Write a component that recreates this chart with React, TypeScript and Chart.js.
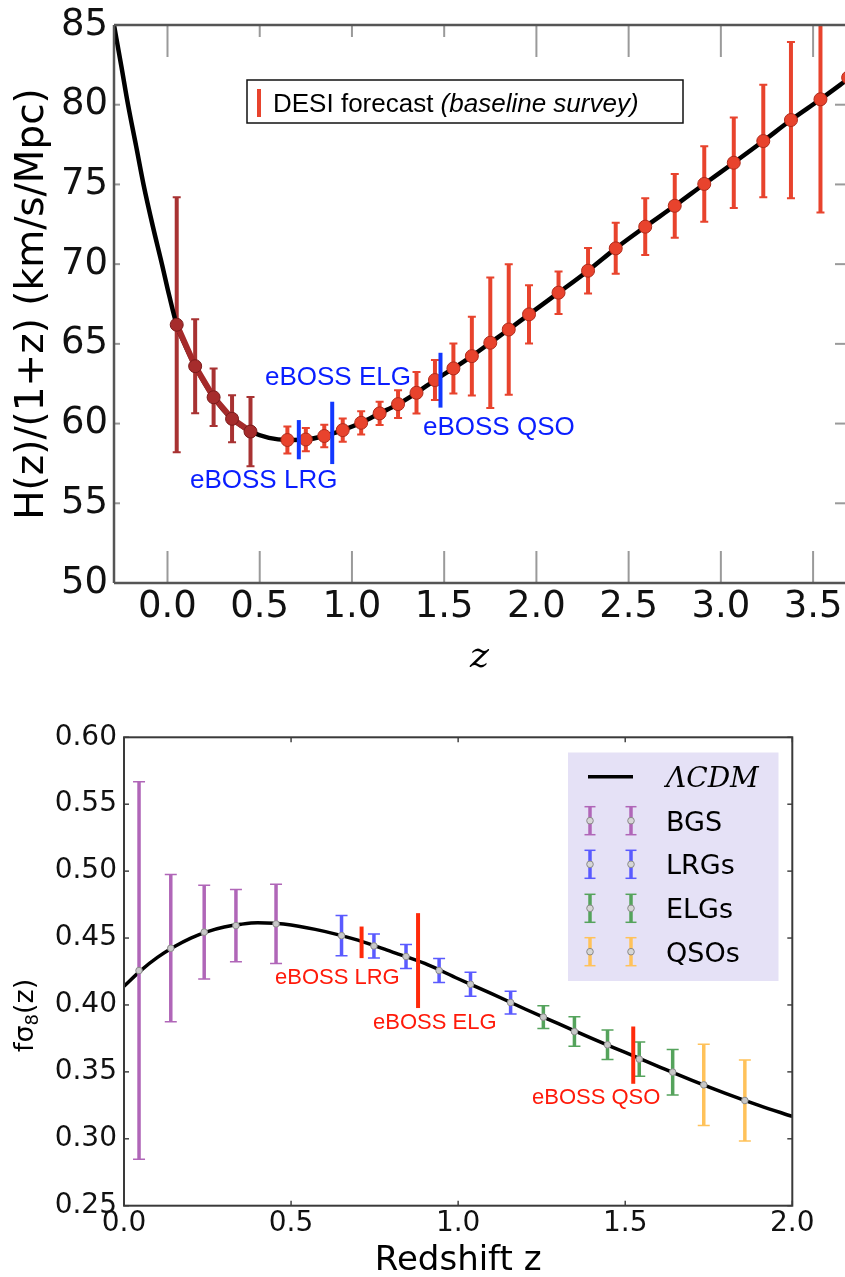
import React, { useEffect, useRef } from "react";
import { Chart, registerables } from "chart.js";

Chart.register(...registerables);

/* ================= Top panel: H(z)/(1+z) ================= */
const topXTicks = [0.0, 0.5, 1.0, 1.5, 2.0, 2.5, 3.0, 3.5];
const topYTicks = [50, 55, 60, 65, 70, 75, 80, 85];

const lcdmHzZ = [-0.29, -0.25, -0.214, -0.17, -0.13, -0.08, -0.03, 0.01, 0.05, 0.1, 0.15, 0.2, 0.25, 0.3, 0.35, 0.4, 0.45, 0.55, 0.65, 0.75, 0.85, 0.95, 1.05, 1.15, 1.25, 1.35, 1.45, 1.55, 1.65, 1.75, 1.85, 1.96, 2.12, 2.28, 2.43, 2.59, 2.75, 2.91, 3.07, 3.23, 3.38, 3.54, 3.7];
const lcdmHzH = [85.0, 82.4, 80.0, 77.4, 75.0, 72.4, 70.0, 68.0, 66.2, 64.8, 63.6, 62.55, 61.65, 60.9, 60.3, 59.85, 59.5, 59.1, 58.97, 59.0, 59.22, 59.59, 60.05, 60.64, 61.22, 61.93, 62.73, 63.46, 64.23, 65.07, 65.9, 66.85, 68.21, 69.59, 70.99, 72.35, 73.66, 75.03, 76.36, 77.72, 79.04, 80.34, 81.7];

const bgsHzZ = [0.05, 0.15, 0.25, 0.35, 0.45];
const bgsHzH = [66.2, 63.6, 61.65, 60.3, 59.5];
const bgsHzErr = [8.0, 2.95, 1.8, 1.47, 2.17];

const desiHzZ = [0.65, 0.75, 0.85, 0.95, 1.05, 1.15, 1.25, 1.35, 1.45, 1.55, 1.65, 1.75, 1.85, 1.96, 2.12, 2.28, 2.43, 2.59, 2.75, 2.91, 3.07, 3.23, 3.38, 3.54, 3.69];
const desiHzH = [58.97, 59.0, 59.22, 59.59, 60.05, 60.64, 61.22, 61.93, 62.73, 63.46, 64.23, 65.07, 65.9, 66.85, 68.21, 69.59, 70.99, 72.35, 73.66, 75.03, 76.36, 77.72, 79.04, 80.34, 81.7];
const desiHzErr = [0.85, 0.73, 0.7, 0.73, 0.73, 0.73, 0.87, 1.3, 1.25, 1.57, 2.47, 4.1, 4.1, 1.83, 1.33, 1.43, 1.6, 1.78, 2.0, 2.37, 2.84, 3.53, 4.9, 7.1, 9.0];

const ebossTopZ = [0.712, 0.893, 1.48];
const ebossTopLo = [57.76, 57.46, 61.0];
const ebossTopHi = [60.22, 61.37, 64.44];
const ebossTopLabels = ["eBOSS LRG", "eBOSS ELG", "eBOSS QSO"];

/* ================= Bottom panel: f sigma8(z) ================= */
const botXTicks = [0.0, 0.5, 1.0, 1.5, 2.0];
const botYTicks = [0.25, 0.3, 0.35, 0.4, 0.45, 0.5, 0.55, 0.6];

const lcdmFsZ = [0, 0.05, 0.1, 0.15, 0.2, 0.25, 0.3, 0.35, 0.4, 0.45, 0.5, 0.6, 0.7, 0.8, 0.9, 1.0, 1.1, 1.2, 1.3, 1.4, 1.5, 1.6, 1.7, 1.8, 1.9, 2.0];
const lcdmFsV = [0.414, 0.4257, 0.4355, 0.4435, 0.45, 0.4548, 0.4582, 0.4603, 0.4614, 0.461, 0.4598, 0.455, 0.4484, 0.4398, 0.431, 0.4196, 0.4085, 0.397, 0.386, 0.375, 0.3645, 0.354, 0.3437, 0.334, 0.325, 0.3167];

const bgsFsZ = [0.045, 0.14, 0.24, 0.335, 0.455];
const bgsFsV = [0.4257, 0.4424, 0.4544, 0.4593, 0.4606];
const bgsFsErr = [0.141, 0.055, 0.035, 0.027, 0.0296];

const lrgFsZ = [0.651, 0.748, 0.844, 0.943, 1.037, 1.157];
const lrgFsV = [0.4518, 0.4441, 0.4362, 0.4257, 0.4155, 0.4018];
const lrgFsErr = [0.015, 0.009, 0.009, 0.009, 0.009, 0.0085];

const elgFsZ = [1.255, 1.348, 1.447, 1.542, 1.642];
const elgFsV = [0.3909, 0.3801, 0.3702, 0.3595, 0.3498];
const elgFsErr = [0.0085, 0.011, 0.011, 0.0128, 0.017];

const qsoFsZ = [1.735, 1.858];
const qsoFsV = [0.3403, 0.3286];
const qsoFsErr = [0.0303, 0.0302];

const ebossBotZ = [0.711, 0.88, 1.524];
const ebossBotLo = [0.435, 0.3977, 0.3411];
const ebossBotHi = [0.4586, 0.4686, 0.3839];
const ebossBotLabels = ["eBOSS LRG", "eBOSS ELG", "eBOSS QSO"];

const legendLabels = ["BGS", "LRGs", "ELGs", "QSOs"];

/* ================= helpers ================= */
const C_BGS = "#b066b8";
const C_LRG = "#5a5aff";
const C_ELG = "#55a35c";
const C_QSO = "#ffc25a";

const pts = (xs: number[], ys: number[]) => xs.map((x, i) => ({ x, y: ys[i] }));

function errorBars(ctx: any, xS: any, yS: any, xs: number[], ys: number[], es: number[], color: string, lw: number, capHalf: number, capLw: number) {
  ctx.strokeStyle = color;
  ctx.lineCap = "butt";
  for (let i = 0; i < xs.length; i++) {
    const px = xS.getPixelForValue(xs[i]);
    const t = yS.getPixelForValue(ys[i] + es[i]);
    const b = yS.getPixelForValue(ys[i] - es[i]);
    ctx.lineWidth = lw;
    ctx.beginPath();
    ctx.moveTo(px, t);
    ctx.lineTo(px, b);
    ctx.stroke();
    ctx.lineWidth = capLw;
    ctx.beginPath();
    ctx.moveTo(px - capHalf, t);
    ctx.lineTo(px + capHalf, t);
    ctx.moveTo(px - capHalf, b);
    ctx.lineTo(px + capHalf, b);
    ctx.stroke();
  }
}

function vLines(ctx: any, xS: any, yS: any, xs: number[], lo: number[], hi: number[], color: string, lw: number) {
  ctx.strokeStyle = color;
  ctx.lineWidth = lw;
  for (let i = 0; i < xs.length; i++) {
    const px = xS.getPixelForValue(xs[i]);
    ctx.beginPath();
    ctx.moveTo(px, yS.getPixelForValue(hi[i]));
    ctx.lineTo(px, yS.getPixelForValue(lo[i]));
    ctx.stroke();
  }
}

function line(ctx: any, x1: number, y1: number, x2: number, y2: number) {
  ctx.beginPath();
  ctx.moveTo(x1, y1);
  ctx.lineTo(x2, y2);
  ctx.stroke();
}

function fixedAxis(size: number, horizontal: boolean) {
  return (s: any) => {
    if (horizontal) s.height = size;
    else s.width = size;
    s.paddingLeft = 0;
    s.paddingRight = 0;
    s.paddingTop = 0;
    s.paddingBottom = 0;
  };
}

/* ================= Top chart ================= */
const topPlugin = {
  id: "topDeco",
  beforeDatasetsDraw(chart: any) {
    const { ctx, chartArea: a, scales } = chart;
    ctx.save();
    ctx.beginPath();
    ctx.rect(a.left, a.top, a.right - a.left - 4, a.bottom - a.top);
    ctx.clip();
    errorBars(ctx, scales.x, scales.y, bgsHzZ, bgsHzH, bgsHzErr, "#a83232", 4, 4, 2);
    errorBars(ctx, scales.x, scales.y, desiHzZ, desiHzH, desiHzErr, "#e8432d", 4, 4, 2);
    ctx.restore();
  },
  afterDatasetsDraw(chart: any) {
    const { ctx, scales } = chart;
    ctx.save();
    vLines(ctx, scales.x, scales.y, ebossTopZ, ebossTopLo, ebossTopHi, "#1238ff", 4);
    ctx.fillStyle = "#0a1eff";
    ctx.font = "26px 'Liberation Sans', Arial, sans-serif";
    ctx.textAlign = "left";
    ctx.textBaseline = "alphabetic";
    ctx.fillText(ebossTopLabels[0], 190, 488);
    ctx.fillText(ebossTopLabels[1], 265, 385);
    ctx.fillText(ebossTopLabels[2], 423, 435);
    ctx.restore();
  },
  afterDraw(chart: any) {
    const { ctx, chartArea: a, scales } = chart;
    const xS = scales.x, yS = scales.y;
    ctx.save();
    ctx.strokeStyle = "#9a9a9a";
    ctx.lineWidth = 2;
    topXTicks.forEach((v) => {
      const px = xS.getPixelForValue(v);
      line(ctx, px, a.bottom, px, a.bottom - 32);
      const long = v < 0.25 || v > 1.75;
      line(ctx, px, a.top, px, a.top + (long ? 32 : 12));
    });
    topYTicks.forEach((v) => {
      if (v === 50 || v === 85) return;
      const py = yS.getPixelForValue(v);
      line(ctx, a.left, py, a.left + 6, py);
      line(ctx, a.right, py, a.right - 10, py);
    });
    ctx.strokeStyle = "#555";
    ctx.lineWidth = 2.5;
    line(ctx, a.left, a.top, a.left, a.bottom);
    line(ctx, a.left, a.bottom, a.right, a.bottom);
    line(ctx, a.left, a.top, a.right, a.top);

    ctx.fillStyle = "#fff";
    ctx.fillRect(247, 80, 436, 43);
    ctx.strokeStyle = "#111";
    ctx.lineWidth = 1.5;
    ctx.strokeRect(247, 80, 436, 43);
    ctx.strokeStyle = "#e8432d";
    ctx.lineWidth = 4;
    line(ctx, 259, 89, 259, 117);
    ctx.fillStyle = "#000";
    ctx.textAlign = "left";
    ctx.textBaseline = "alphabetic";
    ctx.font = "26px 'Liberation Sans', Arial, sans-serif";
    const t1 = "DESI forecast ";
    ctx.fillText(t1, 273, 111.5);
    const w1 = ctx.measureText(t1).width;
    ctx.font = "italic 26px 'Liberation Sans', Arial, sans-serif";
    ctx.fillText("(baseline survey)", 273 + w1, 111.5);

    ctx.fillStyle = "#000";
    ctx.font = "39px 'DejaVu Sans'";
    ctx.save();
    ctx.translate(43, (a.top + a.bottom) / 2);
    ctx.rotate(-Math.PI / 2);
    ctx.textAlign = "center";
    ctx.textBaseline = "alphabetic";
    ctx.fillText("H(z)/(1+z) (km/s/Mpc)", 0, 0);
    ctx.restore();
    ctx.font = "italic 36px 'DejaVu Serif'";
    ctx.textAlign = "center";
    ctx.fillText("z", (a.left + a.right) / 2, 667);
    ctx.restore();
  },
};

function topConfig(): any {
  return {
    type: "scatter",
    data: {
      datasets: [
        {
          type: "line",
          data: pts(lcdmHzZ, lcdmHzH),
          borderColor: "#000",
          borderWidth: 4.5,
          pointRadius: 0,
          cubicInterpolationMode: "monotone",
          order: 3,
        },
        {
          type: "line",
          data: pts(bgsHzZ, bgsHzH),
          borderColor: "#a52a2a",
          borderWidth: 6,
          pointRadius: 6.5,
          pointBackgroundColor: "#a62c2c",
          pointBorderColor: "#7a1a1a",
          pointBorderWidth: 1,
          order: 2,
        },
        {
          type: "scatter",
          data: pts(desiHzZ, desiHzH),
          pointRadius: 6.5,
          pointBackgroundColor: "#e8432d",
          pointBorderColor: "#b02a1a",
          pointBorderWidth: 1,
          order: 1,
        },
      ],
    },
    options: {
      animation: false,
      responsive: false,
      devicePixelRatio: 1,
      events: [],
      layout: { padding: { top: 25, right: 0, left: 0, bottom: 0 }, autoPadding: false },
      plugins: { legend: { display: false }, tooltip: { enabled: false } },
      scales: {
        x: {
          type: "linear",
          min: -0.29,
          max: 3.673,
          grid: { display: false, drawTicks: false },
          border: { display: false },
          ticks: {
            autoSkip: false,
            maxRotation: 0,
            padding: 6,
            color: "#111",
            font: { family: "'DejaVu Sans'", size: 37, lineHeight: 1 },
            callback: (v: any) => Number(v).toFixed(1),
          },
          afterBuildTicks: (s: any) => {
            s.ticks = topXTicks.map((v) => ({ value: v }));
          },
          afterFit: fixedAxis(107, true),
        },
        y: {
          type: "linear",
          min: 50,
          max: 85,
          grid: { display: false, drawTicks: false },
          border: { display: false },
          ticks: {
            autoSkip: false,
            padding: 6,
            color: "#111",
            font: { family: "'DejaVu Sans'", size: 37, lineHeight: 1 },
            callback: (v: any) => String(v),
          },
          afterBuildTicks: (s: any) => {
            s.ticks = topYTicks.map((v) => ({ value: v }));
          },
          afterFit: fixedAxis(114, false),
        },
      },
    },
    plugins: [topPlugin],
  };
}

/* ================= Bottom chart ================= */
function legendErrSym(ctx: any, x: number, y: number, color: string) {
  ctx.strokeStyle = color;
  ctx.lineWidth = 3.5;
  line(ctx, x, y - 14, x, y + 14);
  ctx.lineWidth = 1.5;
  line(ctx, x - 5.5, y - 14, x + 5.5, y - 14);
  line(ctx, x - 5.5, y + 14, x + 5.5, y + 14);
  ctx.fillStyle = "#d6d6d6";
  ctx.strokeStyle = "#8a8a8a";
  ctx.lineWidth = 1;
  ctx.beginPath();
  ctx.arc(x, y, 3.3, 0, Math.PI * 2);
  ctx.fill();
  ctx.stroke();
}

const botPlugin = {
  id: "botDeco",
  afterDatasetDraw(chart: any, args: any) {
    if (args.index !== 0) return;
    const { ctx, chartArea: a, scales } = chart;
    ctx.save();
    ctx.beginPath();
    ctx.rect(a.left, a.top, a.right - a.left, a.bottom - a.top);
    ctx.clip();
    errorBars(ctx, scales.x, scales.y, bgsFsZ, bgsFsV, bgsFsErr, C_BGS, 3.5, 6, 1.5);
    errorBars(ctx, scales.x, scales.y, lrgFsZ, lrgFsV, lrgFsErr, C_LRG, 3.5, 6, 1.5);
    errorBars(ctx, scales.x, scales.y, elgFsZ, elgFsV, elgFsErr, C_ELG, 3.5, 6, 1.5);
    errorBars(ctx, scales.x, scales.y, qsoFsZ, qsoFsV, qsoFsErr, C_QSO, 3.5, 6, 1.5);
    ctx.restore();
  },
  afterDatasetsDraw(chart: any) {
    const { ctx, scales } = chart;
    ctx.save();
    vLines(ctx, scales.x, scales.y, ebossBotZ, ebossBotLo, ebossBotHi, "#ff2a0a", 4);
    ctx.fillStyle = "#ff1a0a";
    ctx.font = "22px 'Liberation Sans', Arial, sans-serif";
    ctx.textAlign = "left";
    ctx.textBaseline = "alphabetic";
    ctx.fillText(ebossBotLabels[0], 275, 293.5);
    ctx.fillText(ebossBotLabels[1], 373, 339);
    ctx.fillText(ebossBotLabels[2], 532, 414);
    ctx.restore();
  },
  afterDraw(chart: any) {
    const { ctx, chartArea: a, scales } = chart;
    const xS = scales.x, yS = scales.y;
    ctx.save();
    ctx.strokeStyle = "#444";
    ctx.lineWidth = 1.5;
    botXTicks.forEach((v) => {
      const px = xS.getPixelForValue(v);
      line(ctx, px, a.bottom, px, a.bottom - 5);
      line(ctx, px, a.top, px, a.top + 5);
    });
    botYTicks.forEach((v) => {
      const py = yS.getPixelForValue(v);
      line(ctx, a.left, py, a.left + 5, py);
      line(ctx, a.right, py, a.right - 5, py);
    });
    ctx.strokeStyle = "#3a3a3a";
    ctx.lineWidth = 2;
    ctx.strokeRect(a.left, a.top, a.right - a.left, a.bottom - a.top);

    ctx.fillStyle = "#e5e1f6";
    ctx.fillRect(568, 62.5, 210.5, 228.5);
    ctx.strokeStyle = "#000";
    ctx.lineWidth = 3.5;
    line(ctx, 588, 86.7, 633, 86.7);
    ctx.fillStyle = "#000";
    ctx.textAlign = "left";
    ctx.textBaseline = "alphabetic";
    ctx.font = "italic 28px 'DejaVu Serif'";
    ctx.fillText("\u039BCDM", 666, 97);
    const cols = [C_BGS, C_LRG, C_ELG, C_QSO];
    const ys = [130.7, 174.3, 218.3, 261.7];
    ctx.font = "27px 'DejaVu Sans'";
    legendLabels.forEach((lab, i) => {
      legendErrSym(ctx, 590, ys[i], cols[i]);
      legendErrSym(ctx, 631, ys[i], cols[i]);
      ctx.fillStyle = "#000";
      ctx.fillText(lab, 666, ys[i] + 9.8);
    });

    ctx.fillStyle = "#000";
    ctx.font = "34px 'DejaVu Sans'";
    ctx.textAlign = "center";
    ctx.fillText("Redshift z", (a.left + a.right) / 2, 580);

    ctx.save();
    ctx.translate(33, 362);
    ctx.rotate(-Math.PI / 2);
    ctx.textAlign = "left";
    ctx.font = "27px 'DejaVu Sans'";
    const s1 = "f\u03C3";
    ctx.fillText(s1, 0, 0);
    let w = ctx.measureText(s1).width;
    ctx.font = "18px 'DejaVu Sans'";
    ctx.fillText("8", w, 5);
    w += ctx.measureText("8").width;
    ctx.font = "27px 'DejaVu Sans'";
    ctx.fillText("(z)", w, 0);
    ctx.restore();
    ctx.restore();
  },
};

function botConfig(): any {
  const marker = {
    pointRadius: 3.3,
    pointBackgroundColor: "#c8c8c8",
    pointBorderColor: "#8a8a8a",
    pointBorderWidth: 1,
  };
  return {
    type: "scatter",
    data: {
      datasets: [
        {
          type: "line",
          data: pts(lcdmFsZ, lcdmFsV),
          borderColor: "#000",
          borderWidth: 3.5,
          pointRadius: 0,
          cubicInterpolationMode: "monotone",
          order: 10,
        },
        { type: "scatter", data: pts(bgsFsZ, bgsFsV), ...marker, order: 1 },
        { type: "scatter", data: pts(lrgFsZ, lrgFsV), ...marker, order: 1 },
        { type: "scatter", data: pts(elgFsZ, elgFsV), ...marker, order: 1 },
        { type: "scatter", data: pts(qsoFsZ, qsoFsV), ...marker, order: 1 },
      ],
    },
    options: {
      animation: false,
      responsive: false,
      devicePixelRatio: 1,
      events: [],
      layout: { padding: { top: 47.3, right: 52.7, left: 0, bottom: 0 }, autoPadding: false },
      plugins: { legend: { display: false }, tooltip: { enabled: false } },
      scales: {
        x: {
          type: "linear",
          min: 0,
          max: 2,
          grid: { display: false, drawTicks: false },
          border: { display: false },
          ticks: {
            autoSkip: false,
            maxRotation: 0,
            padding: 4,
            color: "#111",
            font: { family: "'DejaVu Sans'", size: 28, lineHeight: 1 },
            callback: (v: any) => Number(v).toFixed(1),
          },
          afterBuildTicks: (s: any) => {
            s.ticks = botXTicks.map((v) => ({ value: v }));
          },
          afterFit: fixedAxis(71.3, true),
        },
        y: {
          type: "linear",
          min: 0.25,
          max: 0.6,
          grid: { display: false, drawTicks: false },
          border: { display: false },
          ticks: {
            autoSkip: false,
            padding: 7,
            color: "#111",
            font: { family: "'DejaVu Sans'", size: 28, lineHeight: 1 },
            callback: (v: any) => Number(v).toFixed(2),
          },
          afterBuildTicks: (s: any) => {
            s.ticks = botYTicks.map((v) => ({ value: v }));
          },
          afterFit: fixedAxis(124, false),
        },
      },
    },
    plugins: [botPlugin],
  };
}

export default function App() {
  const topRef = useRef<HTMLCanvasElement>(null);
  const botRef = useRef<HTMLCanvasElement>(null);
  useEffect(() => {
    const c1 = new Chart(topRef.current as HTMLCanvasElement, topConfig());
    const c2 = new Chart(botRef.current as HTMLCanvasElement, botConfig());
    return () => {
      c1.destroy();
      c2.destroy();
    };
  }, []);
  return (
    <div style={{ position: "fixed", left: 0, top: 0, width: 845, height: 1277, overflow: "hidden", background: "#fff" }}>
      <canvas ref={topRef} width={845} height={690} style={{ position: "absolute", left: 0, top: 0, width: 845, height: 690 }} />
      <canvas ref={botRef} width={845} height={587} style={{ position: "absolute", left: 0, top: 690, width: 845, height: 587 }} />
    </div>
  );
}
